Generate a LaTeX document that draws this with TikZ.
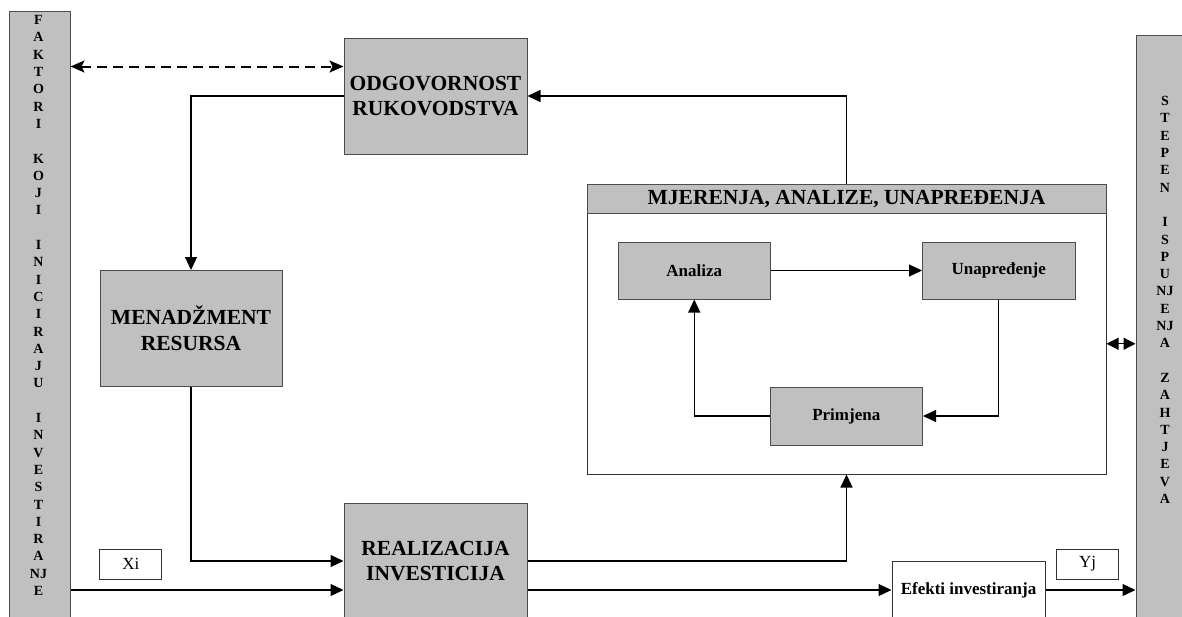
\documentclass[tikz,border=0pt]{standalone}
\usepackage{fontspec}
\setmainfont{Liberation Serif}
\usepackage{tikz}
\usepackage{xcolor}
\usetikzlibrary{shapes, positioning, arrows.meta}

\definecolor{siva}{RGB}{192,192,192}

\begin{document}
\begin{tikzpicture}[x=1pt, y=-1pt,
        blok/.style={rectangle, draw=black!70, fill=siva, line width=1pt, inner sep=0pt, align=center},
        okvir/.style={rectangle, draw=black!80, fill=white, line width=1pt, inner sep=0pt, align=center},
        veza/.style={line width=1.2pt, -{Triangle[length=13pt, width=12pt]}},
        isprek/.style={line width=2pt, dash pattern=on 10pt off 6pt, {Stealth[length=14pt, width=12pt, inset=3pt]}-{Stealth[length=14pt, width=12pt, inset=3pt]}},
        slova/.style={align=center, font=\bfseries\fontsize{14}{17.3}\selectfont, inner sep=0pt},
        veliki/.style={font=\bfseries\fontsize{21.5}{25.5}\selectfont},
        mali/.style={font=\bfseries\fontsize{17}{20}\selectfont}]
        \useasboundingbox (0, 0) rectangle (1182, 616);
        \clip (0, 0) rectangle (1182, 616);

        \node[blok, minimum width=61pt, minimum height=640pt] (fakt) at (39.5, 331) {};
        \node[slova] (faktTxt) at (38.5, 305.5) {F\\A\\K\\T\\O\\R\\I\\[17.3pt]K\\O\\J\\I\\[17.3pt]I\\N\\I\\C\\I\\R\\A\\J\\U\\[17.3pt]I\\N\\V\\E\\S\\T\\I\\R\\A\\NJ\\E};
        \node[blok, minimum width=60pt, minimum height=620pt] (stepen) at (1166, 345) {};
        \node[slova] (stepenTxt) at (1165, 300) {S\\T\\E\\P\\E\\N\\[17.3pt]I\\S\\P\\U\\NJ\\E\\NJ\\A\\[17.3pt]Z\\A\\H\\T\\J\\E\\V\\A};

        \node[blok, veliki, minimum width=183pt, minimum height=116pt] (odg) at (435.5, 96) {ODGOVORNOST\\RUKOVODSTVA};
        \node[blok, veliki, minimum width=182pt, minimum height=116pt] (men) at (191, 328.5) {MENADŽMENT\\RESURSA};
        \node[blok, veliki, minimum width=183pt, minimum height=116pt] (real) at (435.5, 561) {REALIZACIJA\\INVESTICIJA};
        \node[okvir, mali, minimum width=153pt, minimum height=58pt] (efekti) at (968.5, 590) {Efekti investiranja};
        \node[okvir, minimum width=62pt, minimum height=30pt, font=\fontsize{17}{20}\selectfont] (xi) at (130.75, 564) {Xi};
        \node[okvir, minimum width=62pt, minimum height=30pt, font=\fontsize{17}{20}\selectfont] (yj) at (1087.5, 564) {Yj};

        \node[okvir, minimum width=519pt, minimum height=260.5pt] (mjer) at (846.5, 343.75) {};
        \node[blok, minimum width=519pt, minimum height=29.5pt, font=\bfseries\fontsize{21.5}{25}\selectfont] (mjerNasl) at (846.5, 198.75) {MJERENJA, ANALIZE, UNAPREĐENJA};
        \node[blok, mali, minimum width=152.5pt, minimum height=57pt] (ana) at (694.25, 270.5) {Analiza};
        \node[blok, mali, minimum width=152.5pt, minimum height=57pt] (unapr) at (998.75, 270.5) {Unapređenje};
        \node[blok, mali, minimum width=152.5pt, minimum height=58pt] (prim) at (846.25, 416) {Primjena};

        \coordinate (crt) at ([yshift=-29pt]odg.north west);
        \draw[isprek] (fakt.east |- crt) -- (crt);
        \draw[veza] (odg.west) -| (men.north);
        \draw[veza] (men.south) |- (real.west);
        \draw[veza] (fakt.east |- efekti.west) -- (real.west |- efekti.west);
        \draw[veza] (real.east) -| (mjer.south);
        \draw[veza] (real.east |- efekti.west) -- (efekti.west);
        \draw[veza] (efekti.east) -- (stepen.west |- efekti.east);
        \draw[veza] (mjerNasl.north) |- (odg.east);
        \draw[veza, {Triangle[length=12pt, width=12pt]}-{Triangle[length=12pt, width=12pt]}] (mjer.east) -- (stepen.west |- mjer.east);
        \draw[veza] (ana.east) -- (unapr.west);
        \draw[veza] (unapr.south) |- (prim.east);
        \draw[veza] (prim.west) -| (ana.south);
\end{tikzpicture}
\end{document}
